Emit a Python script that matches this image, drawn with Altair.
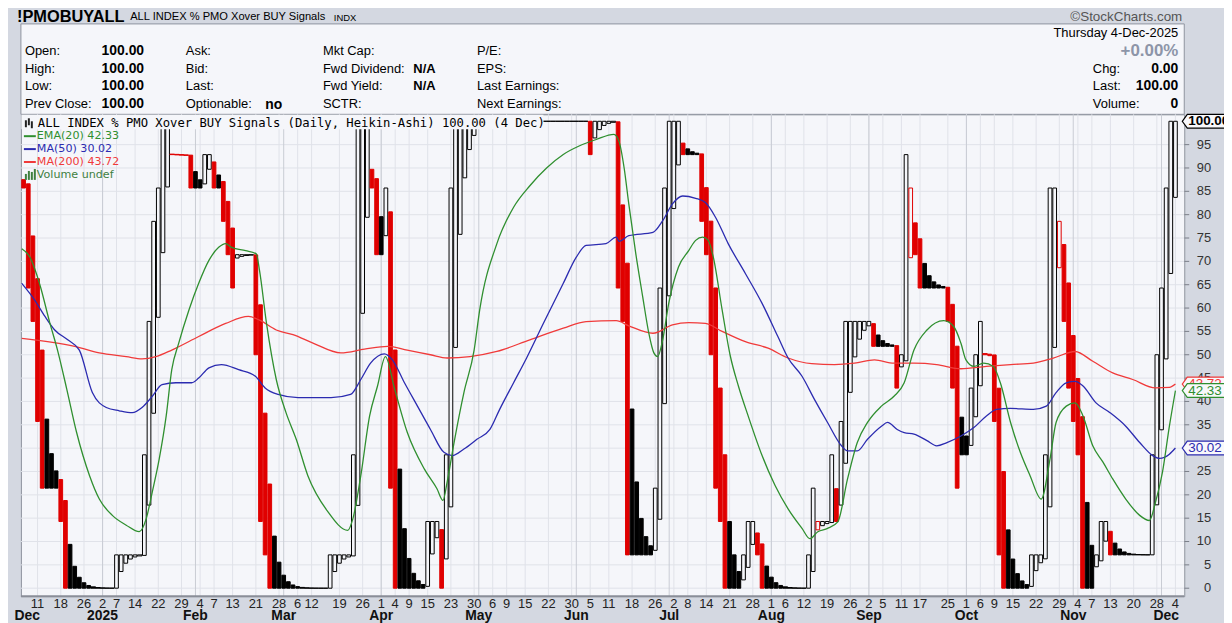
import altair as alt
import pandas as pd

# ---------------- data ----------------
HOLIDAYS = ["2024-12-25", "2025-01-01", "2025-01-09", "2025-01-20", "2025-02-17",
            "2025-04-18", "2025-05-26", "2025-06-19", "2025-07-04", "2025-09-01",
            "2025-11-27"]
trade_days = [d for d in pd.bdate_range("2024-12-06", "2025-12-04")
              if d.strftime("%Y-%m-%d") not in HOLIDAYS]

# daily closes of the index (Heikin-Ashi close = close, O=H=L=C for this index)
closes = [
    85.71, 64.29, 57.14, 35.71, 21.43, 21.43, 21.43, 21.43, 14.29, 0,
    0, 0, 0, 0, 0, 0, 0, 0, 0, 0,
    7.14, 7.14, 7.14, 7.14, 7.14, 7.14, 28.57, 57.14, 78.57, 85.71,
    100, 100, 92.86, 92.8, 92.75, 92.7, 85.71, 85.71, 85.71, 92.86,
    92.86, 85.71, 85.71, 78.57, 71.43, 64.29, 71.43, 71.43, 71.43, 71.43,
    50.0, 14.29, 7.14, 0, 0, 0, 0, 0, 0, 0,
    0, 0, 0, 0, 0, 0, 7.14, 7.14, 7.14, 7.14,
    7.14, 28.57, 100, 100, 100, 85.71, 71.43, 71.43, 85.71, 21.43,
    0, 0, 0, 0, 0, 0, 0, 14.29, 14.29, 14.29,
    0, 28.57, 85.71, 100, 100, 100, 100, 100, 100, 100,
    100, 100, 100, 100, 100, 100, 100, 100, 100, 100,
    100, 100, 100, 100, 100, 100, 100, 100, 100, 100,
    100, 100, 92.86, 100, 100, 100, 100, 100, 64.29, 57.14,
    7.14, 7.14, 7.14, 7.14, 7.14, 7.14, 21.43, 64.29, 85.71, 100,
    100, 100, 92.86, 92.86, 92.86, 92.86, 78.57, 71.43, 50.0, 21.43,
    14.29, 0, 0, 0, 0, 7.14, 14.29, 14.29, 7.14, 0,
    0, 0, 0, 0, 0, 0, 0, 0, 0, 7.14,
    21.43, 14.29, 14.29, 14.29, 28.57, 14.29, 35.71, 57.14, 57.14, 57.14,
    57.14, 57.14, 57.14, 51.8, 51.8, 51.8, 51.8, 51.8, 42.86, 50.0,
    92.86, 85.71, 71.43, 64.29, 64.29, 64.29, 64.29, 64.29, 64.29, 57.14,
    42.86, 21.43, 28.57, 28.57, 42.86, 50.0, 57.14, 50.0, 49.8, 35.71,
    7.14, 0, 0, 0, 0, 0, 0, 7.14, 7.14, 7.14,
    28.57, 85.71, 85.71, 78.57, 57.14, 42.86, 35.71, 28.57, 0, 0,
    0, 7.14, 14.29, 14.29, 7.14, 7.14, 7.14, 7.14, 7.14, 7.14,
    7.14, 7.14, 7.14, 28.57, 50.0, 64.29, 85.71, 100, 100,
]
first_open = 87.5

tick_idx = [3, 8, 13, 17, 20, 24, 29, 34, 38, 41, 45, 50, 55, 59, 62, 68, 73,
            77, 80, 83, 87, 92, 97, 101, 104, 108, 113, 118, 122, 126, 131, 136,
            140, 143, 147, 152, 157, 161, 164, 168, 173, 178, 182, 185, 189, 193,
            199, 203, 206, 209, 213, 218, 223, 227, 230, 234, 239, 244, 248]
tick_lbl = ["11", "18", "26", "2", "7", "14", "22", "29", "4", "7", "13", "21", "28",
            "6", "12", "19", "26", "1", "4", "9", "15", "23", "30", "6", "9", "15",
            "22", "30", "5", "11", "18", "26", "2", "8", "14", "21", "28", "1", "6",
            "12", "19", "26", "2", "5", "11", "17", "25", "1", "6", "9", "15", "22",
            "29", "4", "7", "13", "20", "28", "4"]
month_idx = [0.8, 17, 37, 56, 77, 98, 119, 139, 161, 182, 203, 226, 246]
month_lbl = ["Dec", "2025", "Feb", "Mar", "Apr", "May", "Jun", "Jul", "Aug", "Sep",
             "Oct", "Nov", "Dec"]
month_grid = [17, 37, 56, 77, 98, 119, 139, 161, 182, 203, 226, 245]
y_ticks = list(range(0, 100, 5))

ema_i = [-0.4, 1.3, 3.5, 5.6, 7.3, 9.3, 11.4, 14.2, 16.3, 19.1, 22.1, 24.9, 26.4, 27.7,
         29.2, 30.7, 31.9, 33.4, 35.6, 37.7, 39.9, 42.0, 43.5, 44.8, 47.8, 50.1, 50.8,
         52.3, 54.4, 56.5, 58.7, 61.2, 65.5, 69.8, 70.9, 72.6, 74.5, 76.2, 77.9, 79.9,
         82.6, 86.3, 89.0, 90.3, 91.2, 92.7, 94.8, 97.0, 98.2, 101.9, 105.5, 109.0,
         112.6, 116.2, 119.6, 123.3, 127.1, 128.2, 129.3, 130.3, 131.8, 133.3, 134.6,
         135.7, 136.5, 137.6, 138.9, 141.0, 143.2, 144.7, 146.2, 147.4, 148.5, 150.4,
         152.1, 153.9, 156.0, 159.0, 161.8, 164.6, 167.6, 169.3, 171.0, 173.1, 175.3,
         177.4, 179.5, 181.7, 184.7, 187.4, 189.6, 191.7, 194.5, 198.1, 200.3, 201.8,
         202.9, 204.6, 206.7, 208.8, 210.3, 212.5, 214.6, 216.7, 219.1, 221.0, 222.3,
         224.5, 226.4, 228.1, 230.2, 232.4, 234.5, 237.3, 240.3, 242.4, 243.7, 245.2,
         246.7, 248.0]
ema_v = [72.7, 71.0, 65.0, 57.0, 51.0, 42.6, 33.4, 24.1, 19.1, 15.6, 13.5, 12.1, 14.9,
         20.6, 27.7, 36.9, 46.8, 52.5, 59.6, 65.3, 70.2, 73.0, 73.8, 73.0, 72.3, 71.6,
         68.0, 56.7, 44.7, 37.6, 31.9, 24.1, 16.4, 12.4, 14.9, 24.1, 36.9, 43.3, 49.6,
         42.6, 33.4, 25.5, 21.3, 18.8, 22.8, 31.3, 41.9, 51.0, 59.6, 73.8, 81.6, 86.2,
         90.0, 92.9, 94.7, 96.1, 97.2, 95.7, 90.0, 82.3, 71.7, 62.4, 54.7, 50.4, 49.6,
         53.2, 61.0, 68.8, 72.3, 74.5, 75.2, 74.5, 70.9, 59.6, 50.0, 43.3, 36.9, 28.4,
         22.0, 17.0, 12.8, 10.6, 12.1, 12.8, 14.2, 23.4, 31.2, 35.5, 39.0, 41.1, 44.0,
         51.0, 55.3, 57.3, 56.0, 52.5, 48.9, 47.5, 48.2, 47.5, 44.0, 35.5, 29.1, 24.1,
         19.1, 27.7, 35.5, 39.0, 39.7, 36.9, 30.5, 27.0, 23.4, 19.1, 15.6, 14.5, 18.4,
         24.8, 34.7, 42.33]

ma50_i = [-0.4, 2.4, 4.6, 6.7, 9.5, 12.0, 14.8, 17.8, 20.6, 23.4, 25.5, 27.7, 29.8,
          32.8, 36.2, 37.7, 39.9, 42.6, 46.3, 49.9, 52.0, 54.8, 59.1, 66.2, 70.4, 72.6,
          74.7, 77.7, 79.4, 82.0, 84.8, 87.6, 90.5, 92.3, 94.8, 97.6, 100.4, 102.5,
          105.5, 108.3, 111.9, 116.2, 119.0, 121.1, 125.4, 127.6, 128.2, 130.3, 135.5,
          137.6, 139.7, 141.9, 144.7, 146.8, 149.0, 151.7, 155.4, 159.0, 162.4, 164.6,
          167.6, 170.3, 173.1, 176.1, 177.4, 179.5, 181.7, 184.7, 186.0, 188.1, 189.6,
          191.7, 194.5, 196.6, 198.8, 201.8, 204.6, 207.3, 209.5, 212.5, 217.4, 220.2,
          222.3, 224.5, 226.4, 228.1, 230.9, 233.9, 237.3, 240.3, 243.1, 244.6, 246.7,
          248.0]
ma50_v = [65.3, 61.7, 58.2, 55.3, 53.2, 51.0, 41.9, 38.7, 38.0, 37.6, 38.7, 41.1, 43.6,
          44.0, 44.0, 45.0, 47.2, 47.9, 46.8, 45.4, 42.9, 41.5, 40.8, 40.8, 41.5, 44.7,
          48.2, 50.2, 48.9, 44.0, 39.0, 34.0, 29.1, 28.4, 29.8, 31.9, 34.0, 38.3, 44.0,
          49.3, 56.7, 65.3, 70.9, 73.4, 73.8, 75.2, 74.3, 75.5, 76.2, 78.7, 82.3, 84.0,
          83.5, 82.6, 79.4, 73.8, 67.4, 61.0, 53.9, 49.3, 45.4, 40.4, 35.5, 30.5, 29.4,
          29.4, 31.9, 34.7, 35.5, 34.0, 33.3, 33.0, 31.6, 30.5, 31.2, 32.6, 34.4, 36.9,
          38.3, 38.5, 38.3, 39.0, 41.9, 44.0, 44.3, 43.3, 39.7, 37.6, 34.7, 31.2, 28.4,
          27.8, 28.7, 30.02]

ma200_i = [-0.4, 11.0, 16.3, 22.1, 25.5, 28.5, 31.9, 37.7, 43.5, 48.4, 50.8, 54.4,
           58.0, 62.3, 68.3, 73.4, 78.4, 82.6, 87.6, 91.2, 96.1, 101.9, 109.0, 116.2,
           121.1, 127.6, 130.3, 135.5, 139.7, 143.2, 146.8, 150.4, 155.4, 160.3, 164.6,
           169.7, 174.6, 178.9, 183.2, 187.4, 191.7, 196.6, 201.8, 207.3, 212.5, 217.4,
           221.7, 226.4, 230.2, 234.5, 238.8, 243.7, 246.7, 248.0]
ma200_v = [53.5, 51.8, 50.4, 49.6, 49.1, 49.6, 51.0, 53.9, 56.7, 58.2, 57.4, 55.3,
           54.3, 52.5, 50.4, 51.2, 51.8, 51.0, 50.0, 49.3, 49.6, 50.7, 53.2, 55.7, 57.1,
           57.3, 56.2, 54.6, 56.4, 56.9, 56.7, 55.0, 52.8, 51.4, 49.3, 48.1, 47.9, 48.2,
           48.9, 48.2, 48.2, 47.9, 47.0, 47.5, 47.9, 48.2, 49.3, 50.7, 48.6, 46.1, 44.7,
           42.9, 43.0, 43.72]

last_close, last_ema, last_ma50, last_ma200 = 100.00, 42.33, 30.02, 43.72

# ---------------- styling ----------------
W, H = 1171, 485
OUTER = "#d4d8e1"
PLOT_BG = "#f5f6fa"
GRID = "#e0e2e9"
GRID_DARK = "#c9ccd4"
BORDER = "#8e939e"
RED = "#e00000"
C_EMA, C_MA50, C_MA200 = "#2f8f2f", "#2b2bb0", "#f03a3a"
SANS = "Liberation Sans"
VERD = "DejaVu Sans"
MONO = "DejaVu Sans Mono"

xs = alt.Scale(domain=[-0.58, 249.9], nice=False, zero=False)
ys = alt.Scale(domain=[-1.70, 101.49], nice=False, zero=False)


def hx(x):  # reference page x -> plot-relative pixel
    return x - 21


def hy(y):
    return y - 113


# Heikin-Ashi candles built from the closes
rows = []
o = first_open
for k, c in enumerate(closes):
    if k > 0:
        o = (o + closes[k - 1]) / 2.0
    prev = closes[k - 1] if k > 0 else 100.0
    kind = ("hollow" if c > o + 1e-9 else "filled") + ("_red" if c < prev - 1e-9 else "_black")
    half = 0.5 if abs(o - c) < 0.3 else 0.4   # flat bodies join into a line
    rows.append({"i": k, "x1": k - half, "x2": k + half, "o": o, "c": c, "kind": kind,
                 "date": trade_days[k].strftime("%Y-%m-%d") if k < len(trade_days) else ""})
cdf = pd.DataFrame(rows)
kinds = ["hollow_black", "hollow_red", "filled_black", "filled_red"]

one = pd.DataFrame({"a": [0]})

candles = alt.Chart(cdf).mark_rect(strokeWidth=1).encode(
    x=alt.X("x1:Q", scale=xs, axis=None), x2="x2:Q",
    y=alt.Y("o:Q", scale=ys, axis=None), y2="c:Q",
    fill=alt.Fill("kind:N", scale=alt.Scale(domain=kinds, range=[PLOT_BG, PLOT_BG, "#000000", RED]), legend=None),
    stroke=alt.Stroke("kind:N", scale=alt.Scale(domain=kinds, range=["#000000", RED, "#000000", RED]), legend=None),
)

tdf = pd.DataFrame({"i": tick_idx, "lbl": tick_lbl})
mdf = pd.DataFrame({"i": month_idx, "lbl": month_lbl})
gdf = pd.DataFrame({"i": month_grid})
ydf = pd.DataFrame({"v": y_ticks, "lbl": [str(v) for v in y_ticks]})

grid_h = alt.Chart(ydf).mark_rule(color=GRID, strokeWidth=1).encode(
    y=alt.Y("v:Q", scale=ys, axis=None), x=alt.value(0), x2=alt.value(W))
grid_light = alt.Chart(tdf).mark_rule(color=GRID, strokeWidth=1).encode(
    x=alt.X("i:Q", scale=xs, axis=None), y=alt.value(0), y2=alt.value(H))
grid_dark = alt.Chart(gdf).mark_rule(color=GRID_DARK, strokeWidth=1).encode(
    x=alt.X("i:Q", scale=xs, axis=None), y=alt.value(0), y2=alt.value(H))
y_tickmarks = alt.Chart(ydf).mark_rule(color="#7a7e88", strokeWidth=1).encode(
    y=alt.Y("v:Q", scale=ys, axis=None), x=alt.value(W), x2=alt.value(W + 5))
y_labels = alt.Chart(ydf).mark_text(align="right", baseline="middle", fontSize=13,
                                    color="#333333", font=SANS).encode(
    y=alt.Y("v:Q", scale=ys, axis=None), x=alt.value(W + 27), text="lbl:N")


def line(idx, vals, color):
    d = pd.DataFrame({"i": idx, "v": vals})
    return alt.Chart(d).mark_line(color=color, strokeWidth=1.3, interpolate="monotone").encode(
        x=alt.X("i:Q", scale=xs, axis=None), y=alt.Y("v:Q", scale=ys, axis=None))


def txt(s, x, y, size=13, bold=False, color="#000000", align="left", font=SANS):
    return alt.Chart(one).mark_text(align=align, baseline="middle", fontSize=size,
                                    fontWeight="bold" if bold else "normal", color=color,
                                    font=font).encode(
        x=alt.value(hx(x)), y=alt.value(hy(y)), text=alt.value(s))


def box(x1, y1, x2, y2, fill, stroke=None, sw=1):
    kw = {"fill": fill}
    if stroke:
        kw.update(stroke=stroke, strokeWidth=sw)
    return alt.Chart(one).mark_rect(**kw).encode(
        x=alt.value(hx(x1)), x2=alt.value(hx(x2)), y=alt.value(hy(y1)), y2=alt.value(hy(y2)))


def seg(x1, x2, y, color, sw=2):
    return alt.Chart(one).mark_rule(color=color, strokeWidth=sw).encode(
        x=alt.value(hx(x1)), x2=alt.value(hx(x2)), y=alt.value(hy(y)))


layers = []
# header
layers.append(box(21, 22, 1192, 113, PLOT_BG, BORDER))
layers.append(txt("!PMOBUYALL", 17, 15.5, size=16.5, bold=True))
layers.append(txt("ALL INDEX % PMO Xover BUY Signals", 131, 15.5, size=11.2))
layers.append(txt("INDX", 336, 16, size=9.5))
layers.append(txt("\u00a9StockCharts.com", 1190, 15, size=13.5, color="#555555", align="right"))
for lab, yy in [("Open:", 49), ("High:", 67), ("Low:", 85), ("Prev Close:", 103)]:
    layers.append(txt(lab, 25, yy))
    layers.append(txt("100.00", 145, yy, size=14, bold=True, align="right"))
for lab, yy in [("Ask:", 49), ("Bid:", 67), ("Last:", 85), ("Optionable:", 103)]:
    layers.append(txt(lab, 187, yy))
layers.append(txt("no", 267, 104, size=14, bold=True))
for lab, yy in [("Mkt Cap:", 49), ("Fwd Dividend:", 67), ("Fwd Yield:", 85), ("SCTR:", 103)]:
    layers.append(txt(lab, 325, yy))
layers.append(txt("N/A", 416, 67, size=13, bold=True))
layers.append(txt("N/A", 416, 85, size=13, bold=True))
for lab, yy in [("P/E:", 49), ("EPS:", 67), ("Last Earnings:", 85), ("Next Earnings:", 103)]:
    layers.append(txt(lab, 480, yy))
layers.append(txt("Thursday  4-Dec-2025", 1186, 31, align="right"))
layers.append(txt("+0.00%", 1186, 49, size=17, bold=True, color="#8d95a8", align="right"))
layers.append(txt("Chg:", 1100, 67))
layers.append(txt("0.00", 1186, 67, size=14, bold=True, align="right"))
layers.append(txt("Last:", 1100, 85))
layers.append(txt("100.00", 1186, 85, size=14, bold=True, align="right"))
layers.append(txt("Volume:", 1100, 103))
layers.append(txt("0", 1186, 103, size=14, bold=True, align="right"))

# plot content
layers += [grid_h, grid_light, grid_dark, candles,
           line(ma200_i, ma200_v, C_MA200), line(ma50_i, ma50_v, C_MA50), line(ema_i, ema_v, C_EMA),
           y_tickmarks, y_labels]

# in-plot legend
layers.append(box(21.5, 113.5, 547, 128, PLOT_BG))
for x1, y1, x2, y2 in [(25, 119, 27, 126), (28, 117, 30, 124), (31, 120, 33, 127)]:
    layers.append(box(x1, y1, x2, y2, "#222222"))
layers.append(txt("ALL INDEX % PMO Xover BUY Signals (Daily, Heikin-Ashi) 100.00 (4 Dec)", 38, 121.5,
                  size=12.3, font=MONO))
layers.append(seg(24, 36, 135, C_EMA))
layers.append(txt("EMA(20) %.2f" % last_ema, 37, 135, size=11.2, color=C_EMA, font=VERD))
layers.append(seg(24, 36, 148, C_MA50))
layers.append(txt("MA(50) %.2f" % last_ma50, 37, 148, size=11.2, color=C_MA50, font=VERD))
layers.append(seg(24, 36, 161, C_MA200))
layers.append(txt("MA(200) %.2f" % last_ma200, 37, 161, size=11.2, color=C_MA200, font=VERD))
for x1, y1 in [(25, 173), (28, 170), (31, 171), (34, 168)]:
    layers.append(box(x1, y1, x1 + 2, 179, "#3f7f3f"))
layers.append(txt("Volume undef", 37, 174, size=11.2, color="#3f7f3f", font=VERD))

# price tags on the right axis
TAG = "M-1,0L-0.78,-0.3L1,-0.3L1,0.3L-0.78,0.3Z"


def tag(val, color, bold=False):
    d = pd.DataFrame({"v": [val]})
    p = alt.Chart(d).mark_point(shape=TAG, size=2116, filled=True, fill="#f8f8fb", stroke=color,
                                strokeWidth=1.2, opacity=1).encode(
        x=alt.value(hx(1213)), y=alt.Y("v:Q", scale=ys, axis=None))
    t = alt.Chart(d).mark_text(align="left", baseline="middle", fontSize=13.5,
                               fontWeight="bold" if bold else "normal", color=color, font=SANS).encode(
        x=alt.value(hx(1196)), y=alt.Y("v:Q", scale=ys, axis=None), text=alt.value("%.2f" % val))
    return [p, t]


layers += tag(last_ma200, C_MA200)
layers += tag(last_ema, C_EMA)
layers += tag(last_ma50, C_MA50)
layers += tag(last_close, "#000000", bold=True)

# x-axis labels
layers.append(alt.Chart(tdf).mark_text(baseline="middle", fontSize=13, color="#222222", font=SANS).encode(
    x=alt.X("i:Q", scale=xs, axis=None), y=alt.value(hy(606)), text="lbl:N"))
layers.append(alt.Chart(mdf).mark_text(baseline="middle", fontSize=14, fontWeight="bold",
                                       color="#111111", font=SANS).encode(
    x=alt.X("i:Q", scale=xs, axis=None), y=alt.value(hy(618)), text="lbl:N"))
layers.append(seg(21, 1192, 598, "#8a8e98", sw=2))

chart = alt.layer(*layers).properties(
    width=W, height=H,
    autosize=alt.AutoSizeParams(type="none"),
    padding={"left": 13, "top": 105, "right": 40, "bottom": 25},
    background=OUTER,
).configure_view(fill=PLOT_BG, stroke=BORDER, strokeWidth=1)

chart.save("out.html", embed_options={"renderer": "svg", "actions": False})
